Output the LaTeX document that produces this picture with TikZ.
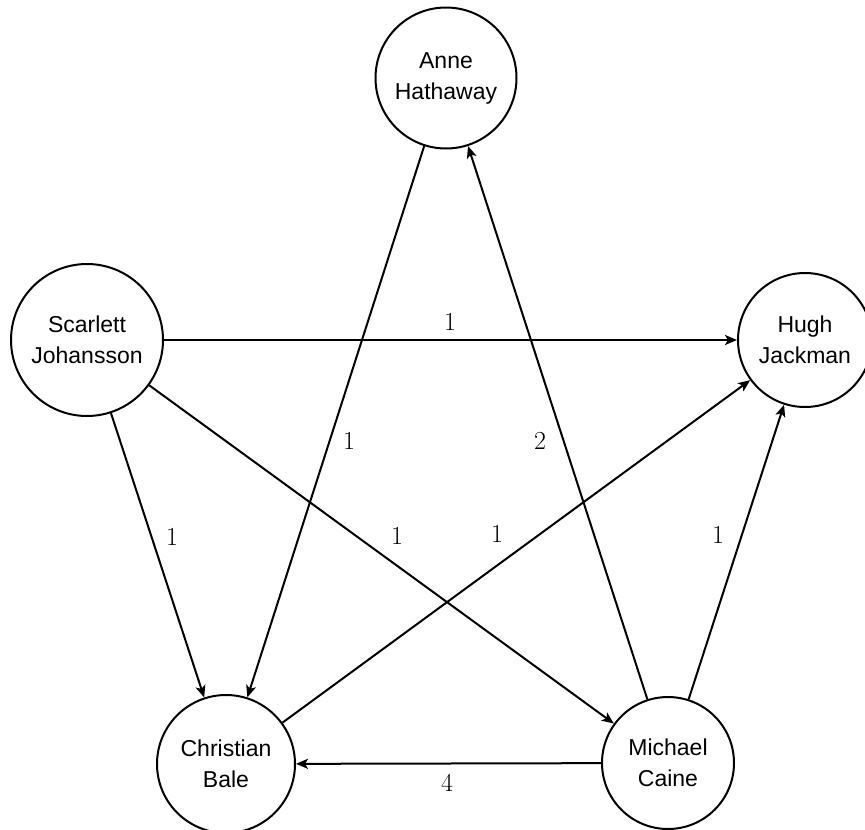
\documentclass[tikz,border=0pt]{standalone}
\usepackage{fontspec}
\newfontfamily\nodefont{Liberation Sans}
\usetikzlibrary{arrows.meta}
\begin{document}
\begin{tikzpicture}[x=1pt,y=-1pt,
  person/.style={draw, circle, line width=2pt, inner sep=0pt, align=center,
    font=\nodefont\fontsize{23}{31}\selectfont},
  link/.style={line width=2pt, -{Stealth[length=12pt,width=10pt,inset=3pt]}},
  wt/.style={font=\fontsize{26}{30}\selectfont, inner sep=0pt}]
\useasboundingbox (0,0) rectangle (865,830);
\node[person, minimum size=141pt] (anne) at (446,78) {Anne\\Hathaway};
\node[person, minimum size=152pt] (scar) at (87,340) {Scarlett\\Johansson};
\node[person, minimum size=134pt] (hugh) at (805,340) {Hugh\\Jackman};
\node[person, minimum size=138pt] (bale) at (226,764) {Christian\\Bale};
\node[person, minimum size=132pt] (caine) at (668,763) {Michael\\Caine};

\draw[link] (scar) -- (hugh);
\draw[link] (anne) -- (bale);
\draw[link] (caine) -- (anne);
\draw[link] (scar) -- (bale);
\draw[link] (scar) -- (caine);
\draw[link] (bale) -- (hugh);
\draw[link] (caine) -- (hugh);
\draw[link] (caine) -- (bale);

\node[wt] (w1) at (450,322) {1};
\node[wt] (w2) at (349,441) {1};
\node[wt] (w3) at (540,441) {2};
\node[wt] (w4) at (172,537) {1};
\node[wt] (w5) at (397,536) {1};
\node[wt] (w6) at (497,534) {1};
\node[wt] (w7) at (718,535) {1};
\node[wt] (w8) at (447,783) {4};
\end{tikzpicture}
\end{document}
